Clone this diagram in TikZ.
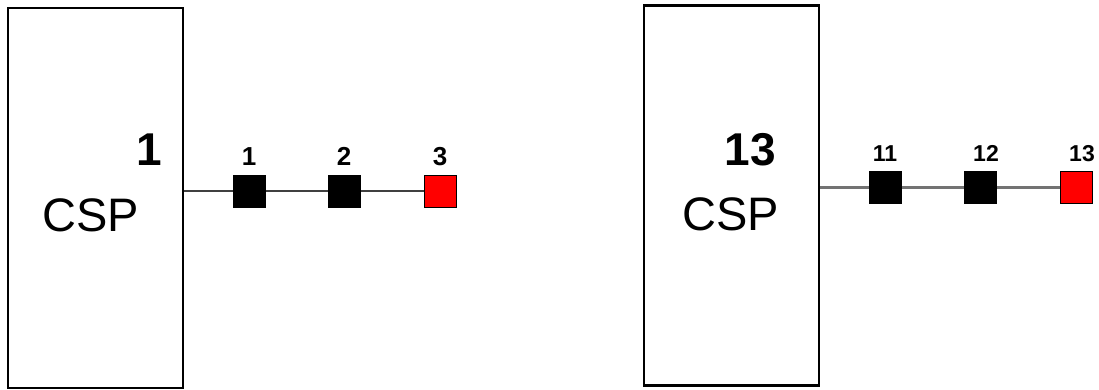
\documentclass[tikz,border=0pt]{standalone}
\usepackage{fontspec}
\setmainfont{Liberation Sans}
\usetikzlibrary{positioning}

\begin{document}
\begin{tikzpicture}[x=1pt, y=-1pt, node distance=9pt,
    CSP/.style = {draw, line width=2.5pt, minimum width=175pt, minimum height=380pt},
    BIG/.style = {font=\fontsize{46}{46}\selectfont\bfseries, inner sep=0pt},
    NAME/.style = {font=\fontsize{47}{47}\selectfont, inner sep=0pt},
    SQ/.style = {draw, line width=1pt, fill=black, minimum size=32pt, inner sep=0pt},
    END/.style = {SQ, fill=red},
    NUM/.style = {font=\fontsize{26}{26}\selectfont\bfseries, inner sep=0pt},
    NUMS/.style = {font=\fontsize{23}{23}\selectfont\bfseries, inner sep=0pt} ]

  \useasboundingbox (0,0) rectangle (1099,389);

  % left station
  \node (c1) [CSP] at (95.5,198) {};
  \node (n1) [BIG]  at (149,150) {1};
  \node (t1) [NAME] at (91,215) {CSP};

  \node (s1) [SQ]  at (249,191) {};
  \node (s2) [SQ]  at (344,191) {};
  \node (s3) [END] at (440,191) {};
  \node [NUM, above=of s1] {1};
  \node [NUM, above=of s2] {2};
  \node [NUM, above=of s3] {3};

  \coordinate (a1) at (c1.east |- s1.west);
  \draw [line width=1.5pt, black!75] (a1) -- (s1.west) (s1.east) -- (s2.west) (s2.east) -- (s3.west);

  % right station
  \node (c2) [CSP] at (731.5,195.5) {};
  \node (n2) [BIG]  at (750,150) {13};
  \node (t2) [NAME] at (731,214) {CSP};

  \node (s11) [SQ]  at (885,187) {};
  \node (s12) [SQ]  at (980,187) {};
  \node (s13) [END] at (1076,187) {};
  \node [NUMS, above=of s11] {11};
  \node [NUMS, above=of s12, xshift=6pt] {12};
  \node [NUMS, above=of s13, xshift=6pt] {13};

  \coordinate (a2) at (c2.east |- s11.west);
  \draw [line width=3pt, black!55] (a2) -- (s11.west) (s11.east) -- (s12.west) (s12.east) -- (s13.west);
\end{tikzpicture}
\end{document}
